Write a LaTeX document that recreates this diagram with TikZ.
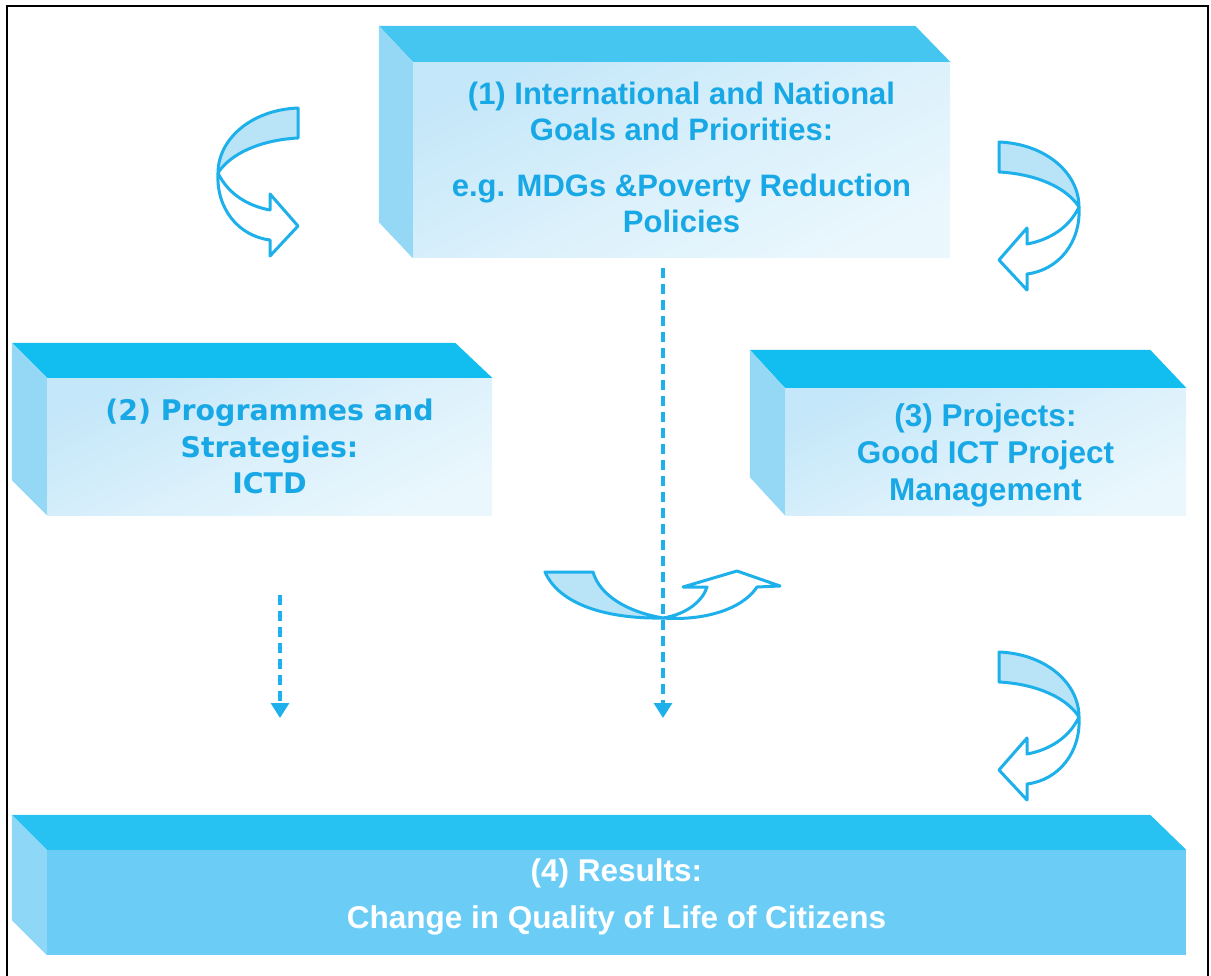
\documentclass[tikz,border=0pt]{standalone}
\usepackage{fontspec}
\usetikzlibrary{arrows.meta,calc}
\newfontfamily\boxfont{Liberation Sans}
\newfontfamily\wideboxfont{DejaVu Sans}

\definecolor{txtblue}{HTML}{18A8E5}
\definecolor{lineblue}{HTML}{1DB0EA}
\definecolor{bandfill}{HTML}{B9E4F8}
\definecolor{topA}{HTML}{44C6F1}
\definecolor{topB}{HTML}{12BEF0}
\definecolor{topC}{HTML}{27C2F2}
\definecolor{sideA}{HTML}{94D8F6}
\definecolor{sideC}{HTML}{8ED7F7}
\definecolor{frontC}{HTML}{6BCDF5}
\definecolor{faceLo}{HTML}{C4E7F9}
\definecolor{faceMid}{HTML}{DAF0FB}
\definecolor{faceHi}{HTML}{EAF7FD}

\tikzset{
  frontface/.style={rectangle, inner sep=0pt, align=center, text=txtblue,
    top color=faceLo, bottom color=faceHi, middle color=faceMid, shading angle=25},
  resultface/.style={rectangle, inner sep=0pt, align=center, text=white, fill=frontC},
  dasharrow/.style={lineblue, line width=3.2pt, dash pattern=on 10pt off 6pt,
    -{Triangle[width=18pt,length=15pt]}},
  ribbonline/.style={draw=lineblue, line width=3pt, line join=round},
  ribbon/.pic={
    % twisted band seen from behind
    \filldraw[ribbonline, fill=bandfill]
      (0,0) .. controls (-48,2) and (-80,32) .. (-80,65)
      .. controls (-68,46) and (-38,32) .. (0,30) -- cycle;
    % front of the band, ending in the arrow head
    \filldraw[ribbonline, fill=white]
      (-80,65) .. controls (-70,86) and (-50,98) .. (-28,102)
      -- (-28,86) -- (0,118) -- (-28,148) -- (-28,132)
      .. controls (-60,128) and (-82,100) .. (-80,65) -- cycle;
  }
}

\begin{document}
\begin{tikzpicture}[x=1pt,y=-1pt]
\useasboundingbox (0,0) rectangle (1211,976);

% outer frame
\draw[line width=2pt] (7,976) -- (7,6) -- (1208,6) -- (1208,976);

% (1) goals and priorities
\node[frontface, minimum width=537pt, minimum height=196pt,
      font=\boxfont\bfseries\fontsize{31}{36}\selectfont] (goals) at (681.5,160)
  {(1) International and National\\Goals and Priorities:\\[20pt]
   e.g. MDGs \&Poverty Reduction\\Policies\\[-31pt]};
\fill[topA] (goals.north west) -- ($(goals.north west)+(-34,-36)$)
  -- ($(goals.north east)+(-35,-36)$) -- (goals.north east) -- cycle;
\fill[sideA] (goals.north west) -- ($(goals.north west)+(-34,-36)$)
  -- ($(goals.south west)+(-34,-36)$) -- (goals.south west) -- cycle;

% (2) programmes and strategies
\node[frontface, minimum width=445pt, minimum height=137pt,
      font=\wideboxfont\bfseries\fontsize{28.4}{36.5}\selectfont] (prog) at (269.5,446.5)
  {(2) Programmes and\\Strategies:\\ICTD};
\fill[topB] (prog.north west) -- ($(prog.north west)+(-35,-35)$)
  -- ($(prog.north east)+(-37,-35)$) -- (prog.north east) -- cycle;
\fill[sideA] (prog.north west) -- ($(prog.north west)+(-35,-35)$)
  -- ($(prog.south west)+(-35,-35)$) -- (prog.south west) -- cycle;

% (3) projects
\node[frontface, minimum width=401pt, minimum height=127pt,
      font=\boxfont\bfseries\fontsize{31.5}{37}\selectfont] (proj) at (985.5,451.5)
  {(3) Projects:\\Good ICT Project\\Management\\[-38pt]};
\fill[topB] (proj.north west) -- ($(proj.north west)+(-35,-38)$)
  -- ($(proj.north east)+(-36,-38)$) -- (proj.north east) -- cycle;
\fill[sideA] (proj.north west) -- ($(proj.north west)+(-35,-38)$)
  -- ($(proj.south west)+(-35,-38)$) -- (proj.south west) -- cycle;

% (4) results
\node[resultface, minimum width=1139pt, minimum height=105pt,
      font=\boxfont\bfseries\fontsize{31.5}{47}\selectfont] (res) at (616.5,902.5)
  {(4) Results:\\Change in Quality of Life of Citizens\\[-29pt]};
\fill[topC] (res.north west) -- ($(res.north west)+(-35,-35)$)
  -- ($(res.north east)+(-36,-35)$) -- (res.north east) -- cycle;
\fill[sideC] (res.north west) -- ($(res.north west)+(-35,-35)$)
  -- ($(res.south west)+(-35,-35)$) -- (res.south west) -- cycle;

% dashed connectors
\coordinate (c1) at (663,268);
\coordinate (c1end) at (663,718);
\coordinate (c2) at (280,595);
\coordinate (c2end) at (280,718);
\draw[dasharrow] (c1) -- (c1end);
\draw[dasharrow] (c2) -- (c2end);

% curved ribbon arrows
\pic at (298,108) {ribbon};
\begin{scope}[shift={(999,142)}, xscale=-1]
  \pic[transform shape] {ribbon};
\end{scope}
\begin{scope}[shift={(999,652)}, xscale=-1]
  \pic[transform shape] {ribbon};
\end{scope}

% flat ribbon arrow across the middle line
\filldraw[ribbonline, fill=bandfill]
  (545,572) .. controls (560,606) and (610,619) .. (663,618)
  .. controls (628,612) and (600,596) .. (593,572) -- cycle;
\filldraw[ribbonline, fill=white]
  (663,618) .. controls (688,614) and (703,600) .. (707,587)
  -- (683,587) -- (737,571) -- (780,586) -- (757,587)
  .. controls (742,610) and (702,621) .. (663,618) -- cycle;
\end{tikzpicture}
\end{document}
